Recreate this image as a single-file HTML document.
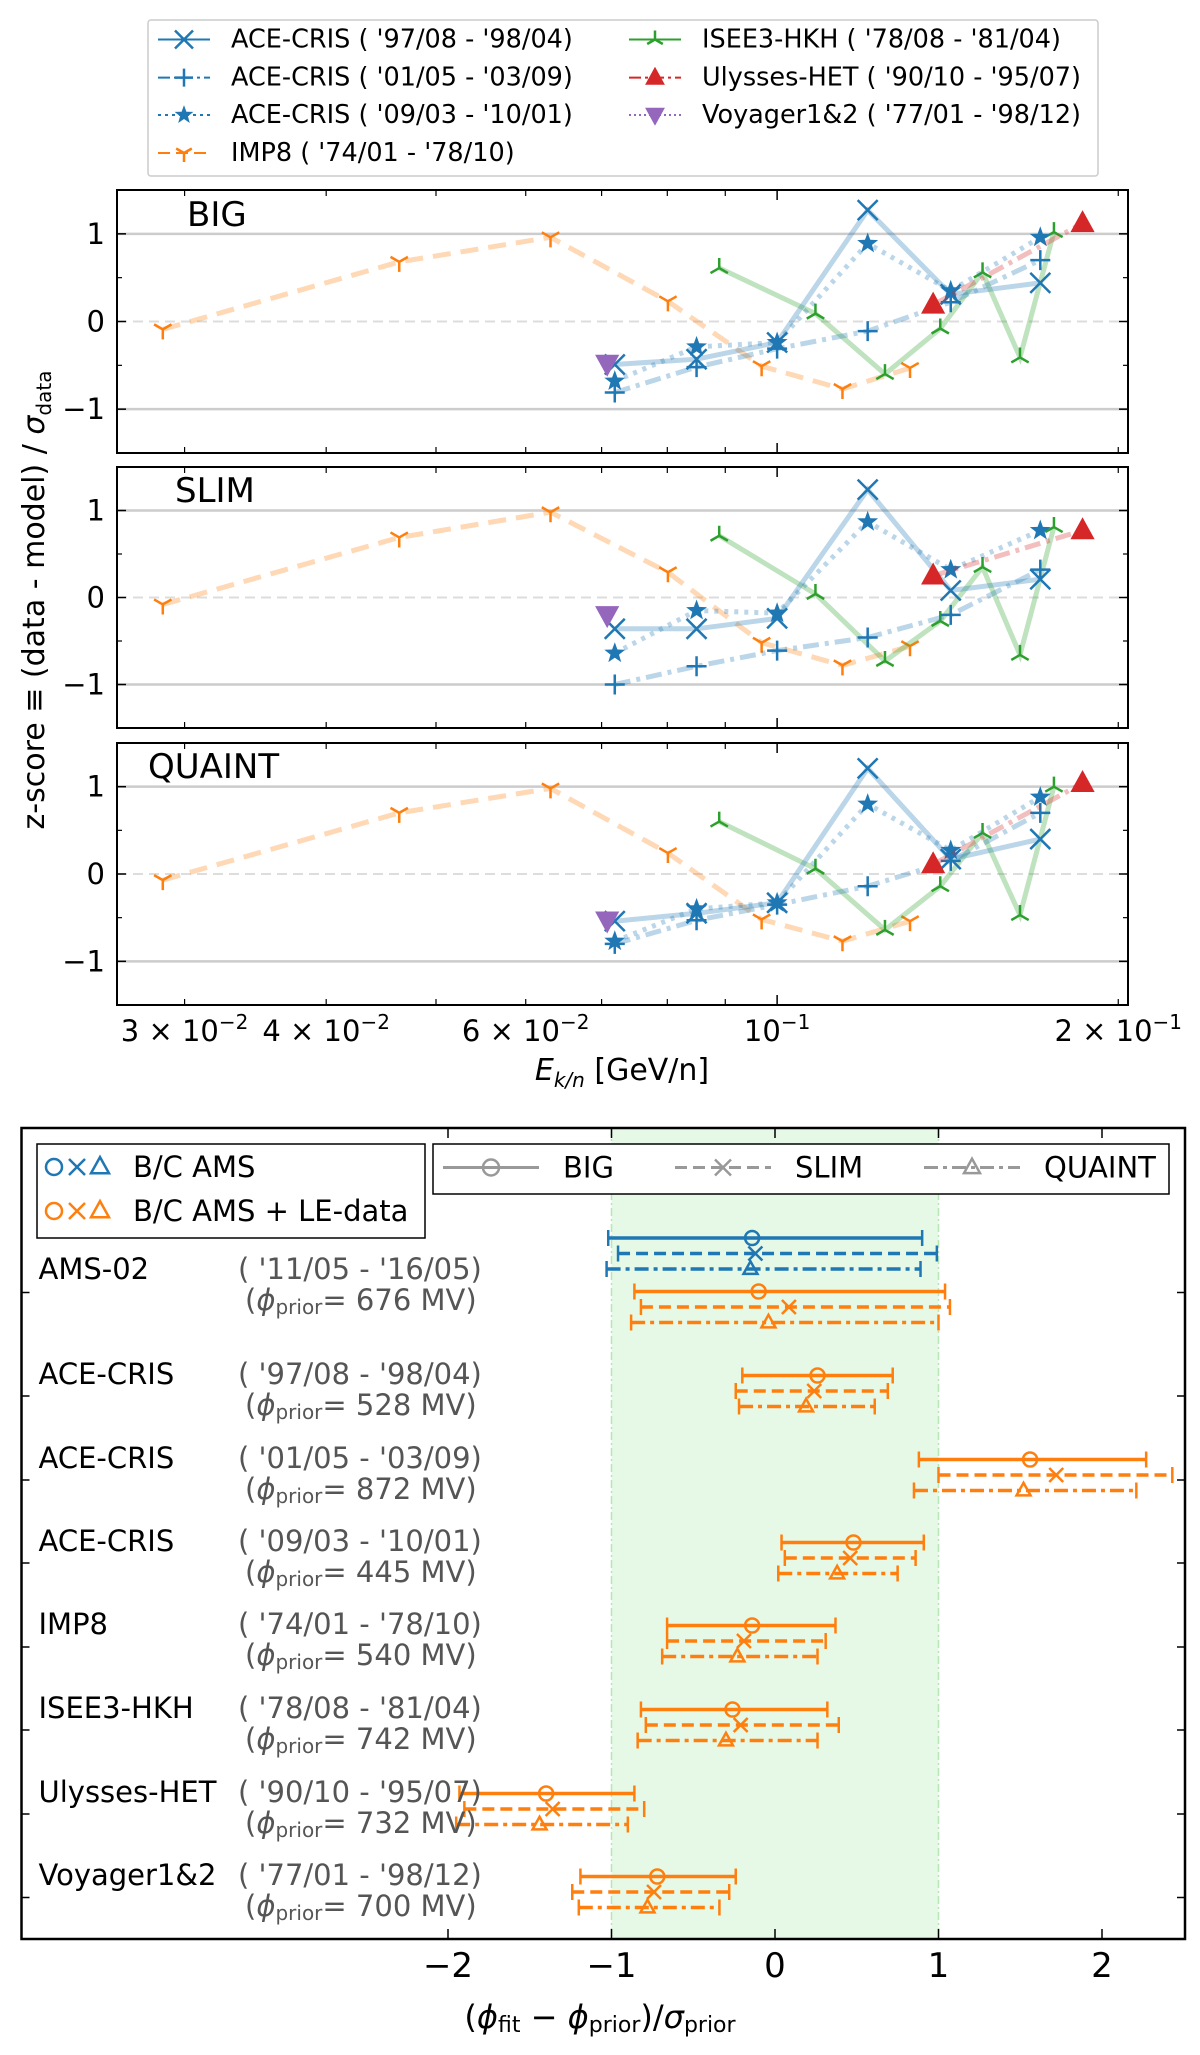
<!DOCTYPE html>
<html><head><meta charset="utf-8"><style>
html,body{margin:0;padding:0;background:#fff;}
svg{display:block;font-family:"DejaVu Sans","Liberation Sans",sans-serif;}
</style></head><body>
<svg id="fig" width="1200" height="2055" viewBox="0 0 1200 2055" xmlns="http://www.w3.org/2000/svg"></svg>
<script>
// ---------- top chart data ----------
const eImp8 = [0.0287,0.0464,0.0631,0.0801,0.0969,0.1142,0.131];
const zImp8 = [[-0.09,0.68,0.96,0.23,-0.51,-0.77,-0.53],[-0.08,0.69,0.98,0.29,-0.52,-0.78,-0.56],[-0.07,0.70,0.98,0.24,-0.52,-0.77,-0.54]];
const eIsee = [0.0889,0.1081,0.1245,0.1393,0.1518,0.1638,0.1755];
const zIsee = [[0.61,0.09,-0.60,-0.08,0.56,-0.41,1.02],[0.71,0.04,-0.73,-0.27,0.35,-0.66,0.81],[0.60,0.06,-0.64,-0.14,0.47,-0.47,1.0]];
const eAce = [0.0719,0.0849,0.1,0.1202,0.1423,0.1707];
const zAce97 = [[-0.49,-0.43,-0.24,1.27,0.31,0.44],[-0.36,-0.36,-0.24,1.24,0.08,0.21],[-0.54,-0.45,-0.33,1.21,0.17,0.40]];
const zAce01 = [[-0.81,-0.52,-0.31,-0.11,0.22,0.70],[-1.0,-0.79,-0.61,-0.46,-0.20,0.32],[-0.80,-0.53,-0.35,-0.14,0.15,0.70]];
const zAce09 = [[-0.68,-0.29,-0.24,0.89,0.35,0.96],[-0.64,-0.15,-0.18,0.87,0.32,0.77],[-0.77,-0.40,-0.33,0.80,0.27,0.88]];
const eUly = [0.1373,0.186];
const zUly = [[0.19,1.12],[0.25,0.77],[0.11,1.04]];
const eVoy = [0.0708];
const zVoy = [[-0.48],[-0.20],[-0.53]];
const panelNames = ["BIG","SLIM","QUAINT"];
const yTicks = [-1,0,1];
const xMajor = [0.1];
const xMinor = [0.03,0.04,0.05,0.06,0.07,0.08,0.09,0.2];
const xLabeled = [[0.03,"3","-2"],[0.04,"4","-2"],[0.06,"6","-2"],[0.2,"2","-1"]];
// ---------- bottom chart data ----------
const rowNames = ["AMS-02","ACE-CRIS","ACE-CRIS","ACE-CRIS","IMP8","ISEE3-HKH","Ulysses-HET","Voyager1&2"];
const rowDates = ["( '11/05 - '16/05)","( '97/08 - '98/04)","( '01/05 - '03/09)","( '09/03 - '10/01)","( '74/01 - '78/10)","( '78/08 - '81/04)","( '90/10 - '95/07)","( '77/01 - '98/12)"];
const rowPhi = [676,528,872,445,540,742,732,700];
const amsBlue = [[-0.14,-1.02,0.90],[-0.12,-0.96,0.99],[-0.15,-1.03,0.89]];
const leData = [
 [[-0.10,-0.86,1.04],[0.085,-0.82,1.07],[-0.04,-0.88,1.00]],
 [[0.26,-0.20,0.72],[0.24,-0.24,0.69],[0.19,-0.22,0.61]],
 [[1.56,0.88,2.27],[1.72,1.00,2.43],[1.52,0.85,2.21]],
 [[0.48,0.04,0.91],[0.46,0.06,0.86],[0.38,0.02,0.75]],
 [[-0.14,-0.66,0.37],[-0.19,-0.66,0.31],[-0.23,-0.69,0.26]],
 [[-0.26,-0.82,0.32],[-0.21,-0.79,0.39],[-0.30,-0.84,0.26]],
 [[-1.40,-1.93,-0.86],[-1.36,-1.90,-0.80],[-1.44,-1.95,-0.90]],
 [[-0.72,-1.19,-0.24],[-0.74,-1.24,-0.28],[-0.78,-1.20,-0.34]]
];
const bTicks = [-2,-1,0,1,2];

const NS="http://www.w3.org/2000/svg";
const svg=document.getElementById('fig');
function el(tag,attrs,parent){const e=document.createElementNS(NS,tag);for(const k in attrs)e.setAttribute(k,attrs[k]);(parent||svg).appendChild(e);return e;}
function txt(s,x,y,size,attrs,parent){const t=el('text',Object.assign({x:x,y:y,'font-size':size,'dominant-baseline':'central'},attrs||{}),parent);t.textContent=s;return t;}
const C={b:'#1f77b4',o:'#ff7f0e',g:'#2ca02c',r:'#d62728',p:'#9467bd'};

function marker(type,x,y,color,g,r){
  r=r||10;let m;
  if(type==='x'){m=el('path',{d:`M${x-r} ${y-r}L${x+r} ${y+r}M${x-r} ${y+r}L${x+r} ${y-r}`,stroke:color,'stroke-width':2.5,fill:'none'},g);}
  else if(type==='+'){m=el('path',{d:`M${x-r} ${y}L${x+r} ${y}M${x} ${y-r}L${x} ${y+r}`,stroke:color,'stroke-width':2.5,fill:'none'},g);}
  else if(type==='star'){let p=[];for(let i=0;i<10;i++){const a=-Math.PI/2+i*Math.PI/5;const rr=i%2?r*0.45:r*1.1;p.push((x+rr*Math.cos(a)).toFixed(1)+','+(y+rr*Math.sin(a)).toFixed(1));}m=el('polygon',{points:p.join(' '),fill:color},g);}
  else if(type==='t1'){m=el('path',{d:`M${x} ${y}L${x} ${y+r}M${x} ${y}L${x-r*0.87} ${y-r*0.5}M${x} ${y}L${x+r*0.87} ${y-r*0.5}`,stroke:color,'stroke-width':2.5,fill:'none'},g);}
  else if(type==='t2'){m=el('path',{d:`M${x} ${y}L${x} ${y-r}M${x} ${y}L${x-r*0.87} ${y+r*0.5}M${x} ${y}L${x+r*0.87} ${y+r*0.5}`,stroke:color,'stroke-width':2.5,fill:'none'},g);}
  else if(type==='^'){m=el('polygon',{points:`${x},${y-r*1.2} ${x-r*1.1},${y+r*0.8} ${x+r*1.1},${y+r*0.8}`,fill:color},g);}
  else if(type==='v'){m=el('polygon',{points:`${x},${y+r*1.2} ${x-r*1.1},${y-r*0.8} ${x+r*1.1},${y-r*0.8}`,fill:color},g);}
  else if(type==='o'){m=el('circle',{cx:x,cy:y,r:r,fill:'none',stroke:color,'stroke-width':2.5},g);}
  else if(type==='tri'){m=el('polygon',{points:`${x},${y-r*1.1} ${x-r},${y+r*0.7} ${x+r},${y+r*0.7}`,fill:'none',stroke:color,'stroke-width':2.5},g);}
  
  
  return m;
}

// ---------- top legend ----------
const lg=el('g',{},svg);


el('rect',{x:148,y:20,width:950,height:156,fill:'#fff',stroke:'#ccc','stroke-width':1.5,rx:3},lg);
const legItems=[
 [158,39.5,C.b,'x',null,"ACE-CRIS ( '97/08 - '98/04)"],
 [158,77.6,C.b,'+','12,4,3,4',"ACE-CRIS ( '01/05 - '03/09)"],
 [158,115,C.b,'star','3,4',"ACE-CRIS ( '09/03 - '10/01)"],
 [158,153,C.o,'t1','12,6',"IMP8 ( '74/01 - '78/10)"],
 [629,39.5,C.g,'t2',null,"ISEE3-HKH ( '78/08 - '81/04)"],
 [629,77.6,C.r,'^','12,4,3,4',"Ulysses-HET ( '90/10 - '95/07)"],
 [629,115,C.p,'v','2,3',"Voyager1&2 ( '77/01 - '98/12)"]];
legItems.forEach(it=>{
  const g=el('g',{},lg);
  
  
  const a={x1:it[0],y1:it[1],x2:it[0]+52,y2:it[1],stroke:it[2],'stroke-width':2};
  if(it[4])a['stroke-dasharray']=it[4];
  el('line',a,g);
  marker(it[3],it[0]+26,it[1],it[2],g,9);
  txt(it[5],it[0]+73,it[1],25.5,{fill:'#000'},g);
});

// ---------- top panels ----------
const PX0=117,PX1=1128,lx0=Math.log10(0.02615),lx1=Math.log10(0.204);
const sx=E=>PX0+(Math.log10(E)-lx0)/(lx1-lx0)*(PX1-PX0);
const panels=[[190,453],[467,728],[743,1005]];
panels.forEach((pp,pi)=>{
  const [t,b]=pp;
  const sy=z=>t+(1.5-z)/3*(b-t);
  const g=el('g',{},svg);
  
  
  el('line',{x1:PX0,x2:PX1,y1:sy(1),y2:sy(1),stroke:'#ccc','stroke-width':2.5},g);
  el('line',{x1:PX0,x2:PX1,y1:sy(-1),y2:sy(-1),stroke:'#ccc','stroke-width':2.5},g);
  el('line',{x1:PX0,x2:PX1,y1:sy(0),y2:sy(0),stroke:'#ddd','stroke-width':2,'stroke-dasharray':'10,6'},g);
  function series(xs,zs,color,dash,mk,name){
    const sg=el('g',{},g);
    
    
    if(xs.length>1){
      const a={points:xs.map((e,i)=>sx(e).toFixed(1)+','+sy(zs[i]).toFixed(1)).join(' '),fill:'none',stroke:color,'stroke-opacity':0.3,'stroke-width':5};
      if(dash)a['stroke-dasharray']=dash;
      el('polyline',a,sg);
    }
    xs.forEach((e,i)=>marker(mk,sx(e),sy(zs[i]),color,sg,mk==='^'||mk==='v'?11:10));
  }
  series(eImp8,zImp8[pi],C.o,'18,10','t1','series-imp8');
  series(eIsee,zIsee[pi],C.g,null,'t2','series-isee3');
  series(eAce,zAce97[pi],C.b,null,'x','series-ace-97');
  series(eAce,zAce01[pi],C.b,'16,6,4,6','+','series-ace-01');
  series(eAce,zAce09[pi],C.b,'4,6','star','series-ace-09');
  series(eUly,zUly[pi],C.r,'16,6,4,6','^','series-ulysses');
  series(eVoy,zVoy[pi],C.p,'4,6','v','series-voyager');
  el('rect',{x:PX0,y:t,width:PX1-PX0,height:b-t,fill:'none',stroke:'#000','stroke-width':2},g);
  yTicks.forEach(v=>{
    el('line',{x1:PX0,x2:PX0+9,y1:sy(v),y2:sy(v),stroke:'#000','stroke-width':1.5},g);
    el('line',{x1:PX1,x2:PX1-9,y1:sy(v),y2:sy(v),stroke:'#000','stroke-width':1.5},g);
    const tl=txt(v<0?'\u22121':String(v),PX0-12,sy(v),29,{'text-anchor':'end'},g);
    
    
  });
  [-0.5,0.5].forEach(v=>{
    el('line',{x1:PX0,x2:PX0+5,y1:sy(v),y2:sy(v),stroke:'#000','stroke-width':1.2},g);
    el('line',{x1:PX1,x2:PX1-5,y1:sy(v),y2:sy(v),stroke:'#000','stroke-width':1.2},g);
  });
  xMajor.forEach(E=>{el('line',{x1:sx(E),x2:sx(E),y1:b,y2:b-10,stroke:'#000','stroke-width':1.5},g);el('line',{x1:sx(E),x2:sx(E),y1:t,y2:t+10,stroke:'#000','stroke-width':1.5},g);});
  xMinor.forEach(E=>{el('line',{x1:sx(E),x2:sx(E),y1:b,y2:b-6,stroke:'#000','stroke-width':1.2},g);el('line',{x1:sx(E),x2:sx(E),y1:t,y2:t+6,stroke:'#000','stroke-width':1.2},g);});
  const pl=txt(panelNames[pi],[187,175,148][pi],[215,491,767][pi],34,{},g);
  
  
});
{
  const g=el('g',{},svg);
  
  
  xLabeled.forEach(l=>{
    const t=el('text',{x:sx(l[0]),y:1041,'font-size':29,'text-anchor':'middle'},g);
    t.innerHTML=`${l[1]} \u00d7 10<tspan font-size="20" dy="-12">\u2212${l[2].slice(1)}</tspan>`;
  });
  const t=el('text',{x:sx(0.1),y:1041,'font-size':29,'text-anchor':'middle'},g);
  t.innerHTML=`10<tspan font-size="20" dy="-12">\u22121</tspan>`;
}
{
  const t=el('text',{x:622,y:1080,'font-size':30,'text-anchor':'middle'});
  t.innerHTML=`<tspan font-style="italic">E</tspan><tspan font-style="italic" font-size="20" dy="7">k/n</tspan><tspan dy="-7"> [GeV/n]</tspan>`;
  
  
  const y=el('text',{x:0,y:0,'font-size':30,'text-anchor':'middle',transform:'translate(44,600) rotate(-90)'});
  y.innerHTML=`z-score \u2261 (data - model) / <tspan font-style="italic">\u03c3</tspan><tspan font-size="20" dy="7">data</tspan>`;
  
  
}

// ---------- bottom chart ----------
const BX0=21.5,BX1=1185,BT=1128,BB=1939;
const sxb=v=>775+v*163.5;
const bg=el('g',{},svg);


el('rect',{x:sxb(-1),y:BT,width:sxb(1)-sxb(-1),height:BB-BT,fill:'#e6f9e6'},bg);
el('line',{x1:sxb(-1),x2:sxb(-1),y1:BT,y2:BB,stroke:'#b8e6b8','stroke-width':1.5,'stroke-dasharray':'8,3,2,3'},bg);
el('line',{x1:sxb(1),x2:sxb(1),y1:BT,y2:BB,stroke:'#b8e6b8','stroke-width':1.5,'stroke-dasharray':'8,3,2,3'},bg);
const centers=[1307,1391,1475,1558,1641,1725,1809,1892];
const dashes=[null,'12,6','14,5,4,5'];
const mks=['o','x','tri'];
function ebar(d,y,color,k,name){
  const g=el('g',{},bg);
  
  
  const a={x1:sxb(d[1]),x2:sxb(d[2]),y1:y,y2:y,stroke:color,'stroke-width':3.5};
  if(dashes[k])a['stroke-dasharray']=dashes[k];
  el('line',a,g);
  el('line',{x1:sxb(d[1]),x2:sxb(d[1]),y1:y-8,y2:y+8,stroke:color,'stroke-width':2.5},g);
  el('line',{x1:sxb(d[2]),x2:sxb(d[2]),y1:y-8,y2:y+8,stroke:color,'stroke-width':2.5},g);
  marker(mks[k],sxb(d[0]),y,color,g,7);
}
amsBlue.forEach((d,k)=>ebar(d,1238+k*15.5,C.b,k,'errorbar-ams-'+['big','slim','quaint'][k]));
leData.forEach((row,i)=>row.forEach((d,k)=>ebar(d,centers[i]-15.5+k*15.5,C.o,k,'errorbar-row'+i+'-'+['big','slim','quaint'][k])));
rowNames.forEach((n,i)=>{
  const y=i===0?1269:centers[i]-17;
  const g=el('g',{},bg);
  
  
  txt(n,38.5,y,29,{},g);
  txt(rowDates[i],238,y,29,{fill:'#555'},g);
  const t=el('text',{x:245,y:y+31,'font-size':29,fill:'#555','dominant-baseline':'central'},g);
  t.innerHTML=`(<tspan font-style="italic">\u03d5</tspan><tspan font-size="20" dy="7">prior</tspan><tspan dy="-7">= ${rowPhi[i]} MV)</tspan>`;
});
el('rect',{x:BX0,y:BT,width:BX1-BX0,height:BB-BT,fill:'none',stroke:'#000','stroke-width':2.5},bg);
bTicks.forEach(v=>{
  el('line',{x1:sxb(v),x2:sxb(v),y1:BB,y2:BB-10,stroke:'#000','stroke-width':1.5},bg);
  el('line',{x1:sxb(v),x2:sxb(v),y1:BT,y2:BT+10,stroke:'#000','stroke-width':1.5},bg);
  const t=txt(v<0?'\u2212'+(-v):String(v),sxb(v),1966,34,{'text-anchor':'middle'},bg);
  
  
});
[1292.5,1396,1480,1563,1647,1730,1814,1897.5].forEach(y=>{
  el('line',{x1:BX0,x2:BX0+8,y1:y,y2:y,stroke:'#000','stroke-width':1.5},bg);
  el('line',{x1:BX1,x2:BX1-8,y1:y,y2:y,stroke:'#000','stroke-width':1.5},bg);
});
{
  const t=el('text',{x:600,y:2017,'font-size':32,'text-anchor':'middle','dominant-baseline':'central'});
  t.innerHTML=`(<tspan font-style="italic">\u03d5</tspan><tspan font-size="22" dy="8">fit</tspan><tspan dy="-8"> \u2212 </tspan><tspan font-style="italic">\u03d5</tspan><tspan font-size="22" dy="8">prior</tspan><tspan dy="-8">)/</tspan><tspan font-style="italic">\u03c3</tspan><tspan font-size="22" dy="8">prior</tspan>`;
  
  
}
{
  const g=el('g',{},svg);
  
  
  el('rect',{x:37,y:1144,width:388,height:94,fill:'#fff',stroke:'#000','stroke-width':1.5},g);
  [[1167,C.b,'B/C AMS'],[1211,C.o,'B/C AMS + LE-data']].forEach(r=>{
    marker('o',54,r[0],r[1],g,8);marker('x',77,r[0],r[1],g,8);marker('tri',100,r[0],r[1],g,9);
    txt(r[2],133,r[0],29,{},g);
  });
  const g2=el('g',{},svg);
  
  
  el('rect',{x:433,y:1144,width:736,height:50,fill:'#fff',stroke:'#000','stroke-width':1.5},g2);
  [[443,'BIG',null,'o'],[675,'SLIM','12,6','x'],[924,'QUAINT','14,5,4,5','tri']].forEach(r=>{
    const a={x1:r[0],x2:r[0]+96,y1:1167.5,y2:1167.5,stroke:'#999','stroke-width':3};
    if(r[2])a['stroke-dasharray']=r[2];
    el('line',a,g2);
    marker(r[3],r[0]+48,1167.5,'#999',g2,8);
    txt(r[1],r[0]+120,1167.5,29,{},g2);
  });
}
</script>
</body></html>
